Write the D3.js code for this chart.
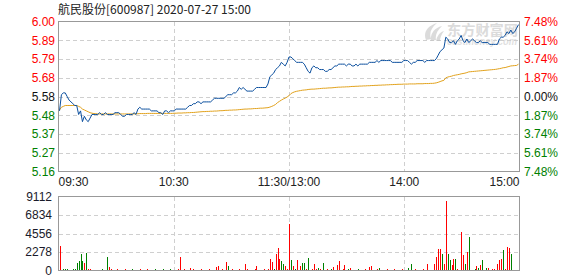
<!DOCTYPE html>
<html>
<head>
<meta charset="utf-8">
<script src="https://cdn.jsdelivr.net/npm/d3@7"></script>
<style>
  body { margin: 0; background: #fff; }
  svg { display: block; }
</style>
</head>
<body>
<div id="chart"></div>
<script>
// quote header
var stockName = "航民股份";
var stockCode = "600987";
var quoteTime = "2020-07-27 15:00";
var preClose = 5.58;
var maxPct = 0.0748;

// tick labels
var priceTicks = ["6.00", "5.89", "5.79", "5.68", "5.58", "5.48", "5.37", "5.27", "5.16"];
var pctTicks = ["7.48%", "5.61%", "3.74%", "1.87%", "0.00%", "1.87%", "3.74%", "5.61%", "7.48%"];
var volTicks = [9112, 6834, 4556, 2278, 0];
var timeLabels = ["09:30", "10:30", "11:30/13:00", "14:00", "15:00"];

// one value per minute, 241 minutes
var price = [
  5.50,5.59,5.60,5.60,5.58,5.56,5.55,5.54,5.53,5.53,
  5.48,5.50,5.44,5.47,5.45,5.44,5.46,5.48,5.48,5.48,
  5.48,5.49,5.48,5.48,5.49,5.48,5.48,5.48,5.48,5.49,
  5.49,5.49,5.48,5.47,5.47,5.48,5.48,5.48,5.48,5.49,
  5.48,5.51,5.52,5.51,5.51,5.51,5.51,5.51,5.50,5.50,
  5.50,5.50,5.49,5.49,5.48,5.50,5.50,5.49,5.50,5.50,
  5.50,5.51,5.51,5.51,5.51,5.51,5.51,5.52,5.53,5.53,
  5.54,5.54,5.55,5.55,5.54,5.55,5.55,5.55,5.55,5.55,
  5.56,5.57,5.57,5.57,5.57,5.57,5.57,5.58,5.59,5.59,
  5.59,5.60,5.60,5.61,5.63,5.62,5.63,5.62,5.61,5.61,
  5.61,5.61,5.62,5.63,5.63,5.63,5.63,5.63,5.63,5.65,
  5.69,5.70,5.71,5.73,5.74,5.75,5.77,5.76,5.75,5.77,
  5.80,5.80,5.79,5.78,5.77,5.77,5.77,5.77,5.76,5.74,
  5.72,5.71,5.74,5.75,5.74,5.74,5.73,5.73,5.73,5.72,
  5.72,5.73,5.73,5.74,5.75,5.75,5.76,5.76,5.76,5.76,
  5.75,5.76,5.76,5.75,5.75,5.76,5.75,5.76,5.76,5.76,
  5.76,5.76,5.77,5.77,5.77,5.77,5.78,5.77,5.78,5.78,
  5.78,5.78,5.78,5.78,5.77,5.77,5.77,5.77,5.77,5.77,
  5.78,5.78,5.78,5.77,5.76,5.77,5.77,5.78,5.78,5.78,
  5.78,5.77,5.78,5.78,5.78,5.78,5.78,5.79,5.81,5.83,
  5.84,5.85,5.91,5.90,5.88,5.88,5.89,5.87,5.89,5.90,
  5.92,5.89,5.88,5.90,5.88,5.89,5.90,5.89,5.88,5.88,
  5.89,5.88,5.88,5.88,5.88,5.87,5.87,5.87,5.87,5.87,
  5.90,5.91,5.91,5.92,5.94,5.93,5.95,5.93,5.94,5.96,
  5.98
];

var avgPrice = [
  5.505,5.520,5.525,5.530,5.530,5.530,5.530,5.530,5.530,5.530,
  5.525,5.520,5.510,5.505,5.500,5.495,5.490,5.487,5.485,5.484,
  5.483,5.483,5.483,5.483,5.483,5.483,5.483,5.483,5.483,5.483,
  5.483,5.483,5.483,5.483,5.483,5.483,5.483,5.483,5.483,5.483,
  5.484,5.484,5.485,5.485,5.485,5.485,5.486,5.486,5.486,5.486,
  5.486,5.486,5.486,5.486,5.486,5.486,5.486,5.486,5.486,5.486,
  5.487,5.487,5.488,5.488,5.488,5.489,5.489,5.490,5.490,5.491,
  5.491,5.492,5.493,5.494,5.495,5.496,5.496,5.497,5.497,5.498,
  5.498,5.499,5.499,5.500,5.501,5.501,5.502,5.503,5.503,5.504,
  5.504,5.505,5.505,5.506,5.507,5.508,5.509,5.510,5.510,5.511,
  5.511,5.512,5.513,5.513,5.514,5.515,5.515,5.516,5.517,5.518,
  5.521,5.525,5.530,5.536,5.546,5.553,5.560,5.566,5.571,5.577,
  5.585,5.596,5.602,5.606,5.609,5.611,5.613,5.615,5.616,5.617,
  5.619,5.620,5.621,5.621,5.622,5.623,5.624,5.625,5.626,5.626,
  5.627,5.628,5.628,5.629,5.630,5.631,5.632,5.632,5.633,5.633,
  5.634,5.634,5.635,5.636,5.636,5.637,5.637,5.638,5.638,5.639,
  5.639,5.640,5.640,5.641,5.641,5.642,5.642,5.643,5.643,5.644,
  5.644,5.645,5.645,5.646,5.646,5.647,5.647,5.648,5.648,5.648,
  5.649,5.649,5.649,5.650,5.650,5.650,5.650,5.651,5.651,5.651,
  5.651,5.652,5.652,5.652,5.653,5.653,5.654,5.656,5.659,5.663,
  5.667,5.670,5.684,5.688,5.691,5.693,5.697,5.699,5.701,5.703,
  5.706,5.708,5.710,5.713,5.717,5.718,5.719,5.720,5.721,5.722,
  5.723,5.724,5.725,5.726,5.727,5.728,5.729,5.730,5.731,5.733,
  5.735,5.737,5.740,5.741,5.744,5.747,5.750,5.751,5.752,5.753,
  5.760
];

var volume = [
  3000,120,150,200,130,120,110,130,140,960,1200,2080,1200,870,2120,150,130,120,110,120,
  110,120,130,110,120,1620,370,140,120,110,130,120,110,120,130,120,110,120,130,120,
  110,120,130,120,110,120,130,120,110,120,130,120,110,120,130,120,110,120,130,120,
  110,120,130,1620,120,130,120,110,250,120,130,120,110,120,130,120,110,120,130,120,
  110,120,400,500,120,130,120,1000,500,120,130,120,110,120,180,120,110,750,130,120,
  110,120,130,500,120,110,120,130,120,180,1370,1000,180,2000,2750,1370,1120,750,500,150,
  5740,1250,500,180,1250,120,500,870,870,150,1500,120,150,750,150,350,150,120,870,120,
  150,120,130,450,120,620,1120,120,130,620,120,130,350,120,110,120,150,120,110,120,
  130,120,450,550,120,120,130,350,120,110,120,130,120,110,120,130,120,110,120,130,
  120,110,350,120,750,120,150,120,110,120,130,120,750,120,110,120,750,1620,2620,2620,
  2000,750,8530,2000,1250,620,1370,1370,150,110,4740,1870,750,2250,4120,100,120,130,500,300,
  620,1250,120,300,300,120,150,150,120,750,1250,1370,2500,150,2870,2750,2000,0,0,0,7490
];

// r = up minute, g = down minute
var volDir = (
  "rrgggggggggggrgrrrrg" + "grggggrrrrrgrrrrrrgr" + "rrrrgrrggrggrgggrggr" +
  "rrrrrrrrrrrrrrrrrrrr" + "rrrrrrrrgrrrrrrrrrrr" + "rrrrrrrrrrrrgrrrggrr" +
  "rgrgrrrggrggrrrgrrgr" + "rrgrrrrrrrrgrrrrgrrr" + "rrrrrrrgrrrrrrrrrrrr" +
  "rrgrgrrrrrrrrrrrrrrr" + "grrggrrgrrrrgrggggrg" + "rgrgrrrrrrrrgrrrgrrrr"
).split("");

var W = 578, H = 276;
var pLeft = 58.5, pRight = 519.5;
var pTop = 21.5, pBottom = 171.5;
var vTop = 196.5, vBottom = 270.5;
var fontLatin = "'Liberation Sans', Arial, sans-serif";

var svg = d3.select("#chart").append("svg")
    .attr("width", W)
    .attr("height", H);

var xs = d3.scaleLinear().domain([0, price.length - 1]).range([59.5, 518.5]);
var ys = d3.scaleLinear()
    .domain([preClose * (1 - maxPct), preClose * (1 + maxPct)])
    .range([pBottom, pTop]);
var vs = d3.scaleLinear().domain([0, volTicks[0]]).range([vBottom, vTop]);
var tickPos = d3.scalePoint().domain(d3.range(priceTicks.length)).range([pTop, pBottom]);
var timePos = d3.scalePoint().domain(d3.range(timeLabels.length)).range([pLeft, pRight]);

function tickColor(k, n) {
  var mid = (n - 1) / 2;
  if (k < mid) return "#ff0000";
  if (k > mid) return "#008000";
  return "#111";
}

// title
svg.append("text")
    .text(stockName + "[" + stockCode + "] " + quoteTime)
    .attr("x", 58)
    .attr("y", 14)
    .attr("font-size", "12px")
    .style("font-family", "'Noto Sans CJK SC', sans-serif")
    .style("fill", "#222");

// grids
var grid = svg.append("g")
    .attr("stroke", "#cfcfcf")
    .attr("stroke-dasharray", "4,3")
    .attr("shape-rendering", "crispEdges");

grid.selectAll(".hg")
    .data(d3.range(1, priceTicks.length - 1))
  .enter().append("line")
    .attr("x1", pLeft).attr("x2", pRight)
    .attr("y1", function(k) { return Math.round(tickPos(k)) + 0.5; })
    .attr("y2", function(k) { return Math.round(tickPos(k)) + 0.5; });

grid.selectAll(".vg")
    .data(volTicks.slice(1, volTicks.length - 1))
  .enter().append("line")
    .attr("x1", pLeft).attr("x2", pRight)
    .attr("y1", function(v) { return Math.round(vs(v)) + 0.5; })
    .attr("y2", function(v) { return Math.round(vs(v)) + 0.5; });

[[pTop, pBottom], [vTop, vBottom]].forEach(function(r) {
  grid.selectAll(null)
      .data(d3.range(1, timeLabels.length - 1))
    .enter().append("line")
      .attr("x1", function(k) { return Math.round(timePos(k)) + 0.5; })
      .attr("x2", function(k) { return Math.round(timePos(k)) + 0.5; })
      .attr("y1", r[0]).attr("y2", r[1]);
});

// watermark
var wm = svg.append("g").attr("opacity", 0.6);
wm.append("path")
    .attr("d", "M426,40 C423,33 427,26 437,23 C431,28 429,33 431,39 Z " +
               "M431,41 C430,34 434,28 442,26 C437,31 435,35 436,40 Z " +
               "M436,41 C437,36 440,32 444,31 C441,35 440,38 440,41 Z")
    .attr("fill", "#c4c4c4");
wm.append("text")
    .text("东方财富网")
    .attr("x", 447)
    .attr("y", 35)
    .attr("font-size", "14px")
    .attr("font-weight", "bold")
    .attr("textLength", 71)
    .attr("lengthAdjust", "spacingAndGlyphs")
    .style("font-family", "'Noto Sans CJK SC', sans-serif")
    .style("fill", "#c4c4c4");
wm.append("text")
    .text("eastmoney.com")
    .attr("x", 447)
    .attr("y", 45)
    .attr("font-size", "10px")
    .attr("font-weight", "bold")
    .attr("font-style", "italic")
    .attr("textLength", 70)
    .attr("lengthAdjust", "spacingAndGlyphs")
    .style("font-family", fontLatin)
    .style("fill", "#cdcdcd");

// volume bars
svg.append("g")
    .attr("shape-rendering", "crispEdges")
  .selectAll("rect")
    .data(volume)
  .enter().append("rect")
    .attr("x", function(d, i) { return Math.round(xs(i)); })
    .attr("width", 1)
    .attr("y", function(d) { return vs(d); })
    .attr("height", function(d) { return vBottom - vs(d); })
    .attr("fill", function(d, i) { return volDir[i] == "g" ? "#008000" : "#ff0000"; });

// price + average lines
var line = d3.line()
    .x(function(d, i) { return xs(i); })
    .y(function(d) { return ys(d); });

svg.append("path")
    .datum(avgPrice)
    .attr("d", line)
    .attr("fill", "none")
    .attr("stroke", "#e2a21c")
    .attr("stroke-width", 1);

svg.append("path")
    .datum(price)
    .attr("d", line)
    .attr("fill", "none")
    .attr("stroke", "#0b4f9e")
    .attr("stroke-width", 1);

// frames
[[pTop, pBottom], [vTop, vBottom]].forEach(function(r) {
  svg.append("rect")
      .attr("x", pLeft).attr("y", r[0])
      .attr("width", pRight - pLeft).attr("height", r[1] - r[0])
      .attr("fill", "none")
      .attr("stroke", "#999")
      .attr("shape-rendering", "crispEdges");
});

// left price labels
svg.selectAll(".pl")
    .data(priceTicks)
  .enter().append("text")
    .text(function(d) { return d; })
    .attr("x", 55)
    .attr("y", function(d, k) { return tickPos(k); })
    .attr("dy", "0.36em")
    .attr("text-anchor", "end")
    .attr("font-size", "12px")
    .style("font-family", fontLatin)
    .style("fill", function(d, k) { return tickColor(k, priceTicks.length); });

// right percent labels
svg.selectAll(".rl")
    .data(pctTicks)
  .enter().append("text")
    .text(function(d) { return d; })
    .attr("x", 524)
    .attr("y", function(d, k) { return tickPos(k); })
    .attr("dy", "0.36em")
    .attr("font-size", "12px")
    .style("font-family", fontLatin)
    .style("fill", function(d, k) { return tickColor(k, pctTicks.length); });

// time labels
svg.selectAll(".tl")
    .data(timeLabels)
  .enter().append("text")
    .text(function(d) { return d; })
    .attr("x", function(d, k) { return timePos(k); })
    .attr("y", 186)
    .attr("text-anchor", function(d, k) {
      return k == 0 ? "start" : (k == timeLabels.length - 1 ? "end" : "middle");
    })
    .attr("font-size", "12px")
    .style("font-family", fontLatin)
    .style("fill", "#222");

// volume labels
svg.selectAll(".vl")
    .data(volTicks)
  .enter().append("text")
    .text(function(d) { return d; })
    .attr("x", 52)
    .attr("y", function(d) { return vs(d); })
    .attr("dy", "0.34em")
    .attr("text-anchor", "end")
    .attr("font-size", "12px")
    .style("font-family", fontLatin)
    .style("fill", "#1a1a2a");
</script>
</body>
</html>
